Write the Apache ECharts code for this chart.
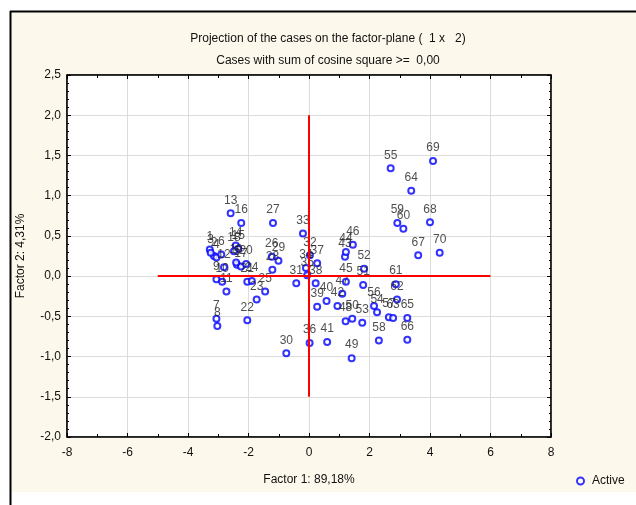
<!DOCTYPE html>
<html>
<head>
<meta charset="utf-8">
<script src="https://cdn.jsdelivr.net/npm/echarts@6/dist/echarts.min.js"></script>
<style>
html,body{margin:0;padding:0;background:#ffffff;}
#chart{width:636px;height:505px;}
</style>
</head>
<body>
<div id="chart"></div>
<script>
// ---- data ----
const caseIds = [1,2,3,4,5,6,7,8,9,10,11,12,13,14,15,16,17,18,19,20,21,22,23,24,25,26,27,28,29,30,31,32,33,34,35,36,37,38,39,40,41,42,43,44,45,46,47,48,49,50,51,52,53,54,55,56,57,58,59,60,61,62,63,64,65,66,67,68,69,70];
const factor1 = [-3.28,-3.14,-3.25,-3.06,-2.38,-2.90,-3.06,-3.03,-3.06,-2.87,-2.73,-2.81,-2.59,-2.42,-2.34,-2.24,-2.25,-2.48,-2.41,-2.08,-2.04,-2.04,-1.73,-1.89,-1.45,-1.23,-1.19,-1.21,-1.01,-0.75,-0.42,0.03,-0.20,-0.10,-0.06,0.02,0.27,0.22,0.27,0.58,0.60,0.94,1.19,1.22,1.22,1.45,1.10,1.21,1.41,1.43,1.79,1.82,1.76,2.25,2.70,2.15,2.64,2.31,2.92,3.12,2.87,2.91,2.78,3.38,3.25,3.25,3.61,4.00,4.10,4.32];
const factor2 = [0.33,0.25,0.29,0.23,0.14,0.27,-0.53,-0.62,-0.04,-0.07,-0.19,0.11,0.78,0.38,0.34,0.66,0.12,0.31,0.17,0.15,-0.07,-0.55,-0.29,-0.06,-0.19,0.24,0.66,0.08,0.19,-0.96,-0.09,0.26,0.53,0.10,0.01,-0.83,0.16,-0.09,-0.38,-0.31,-0.82,-0.37,0.24,0.30,-0.07,0.39,-0.22,-0.56,-1.02,-0.53,-0.11,0.09,-0.58,-0.45,1.34,-0.37,-0.51,-0.80,0.66,0.59,-0.10,-0.29,-0.52,1.06,-0.52,-0.79,0.26,0.67,1.43,0.29];
const xTicks = [-8,-6,-4,-2,0,2,4,6,8];
const yTicks = [-2.0,-1.5,-1.0,-0.5,0.0,0.5,1.0,1.5,2.0,2.5];
const hLine = [[-5,0],[6,0]];
const vLine = [[0,-1.5],[0,2.0]];

const points = caseIds.map((id,i)=>({value:[factor1[i],factor2[i]], name:String(id)}));
const FONT = 'Liberation Sans, Arial, sans-serif';

const chart = echarts.init(document.getElementById('chart'), null, {renderer:'canvas'});
const fmtY = v => v.toFixed(1).replace('.', ',');

chart.setOption({
  animation:false,
  backgroundColor:'#ffffff',
  textStyle:{fontFamily:FONT},
  graphic:[
    {type:'rect', z:-10, shape:{x:11,y:12,width:625,height:480}, style:{fill:'#fdf8ec'}},
    {type:'line', z:-9, shape:{x1:10.5,y1:11,x2:10.5,y2:505}, style:{stroke:'#000',lineWidth:2}},
    {type:'line', z:-9, shape:{x1:10,y1:11.5,x2:636,y2:11.5}, style:{stroke:'#000',lineWidth:2}}
  ],
  title:[
    {text:'Projection of the cases on the factor-plane (  1 x   2)', left:323, top:28, textAlign:'center',
     textStyle:{fontSize:12, fontWeight:'normal', color:'#111', fontFamily:FONT}},
    {text:'Cases with sum of cosine square >=  0,00', left:323, top:50, textAlign:'center',
     textStyle:{fontSize:12, fontWeight:'normal', color:'#111', fontFamily:FONT}}
  ],
  legend:{
    data:['Active'], left:571, top:470, icon:'emptyCircle', itemWidth:7, itemHeight:7, itemGap:6,
    textStyle:{fontSize:12, color:'#111', fontFamily:FONT, padding:[0,0,0,3]}
  },
  grid:{left:67, right:85, top:75, bottom:68, show:true, backgroundColor:'#ffffff', borderColor:'#000', borderWidth:1},
  xAxis:[
    {type:'value', min:xTicks[0], max:xTicks[xTicks.length-1], interval:2,
     name:'Factor 1: 89,18%', nameLocation:'middle', nameGap:37,
     nameTextStyle:{fontSize:12, color:'#111', fontFamily:FONT},
     axisLine:{onZero:false, lineStyle:{color:'#000', width:1.5}},
     axisTick:{inside:true, length:4, lineStyle:{color:'#000'}},
     minorTick:{show:true, splitNumber:2, length:3, lineStyle:{color:'#000'}},
     axisLabel:{fontSize:12, color:'#111', margin:10, fontFamily:FONT},
     splitLine:{show:true, lineStyle:{color:'#dcdcdc', width:1}}},
    {type:'value', position:'top', min:xTicks[0], max:xTicks[xTicks.length-1], interval:2,
     axisLine:{onZero:false, lineStyle:{color:'#000', width:1.5}},
     axisTick:{inside:true, length:4, lineStyle:{color:'#000'}},
     minorTick:{show:true, splitNumber:2, length:3, lineStyle:{color:'#000'}},
     axisLabel:{show:false}, splitLine:{show:false}}
  ],
  yAxis:[
    {type:'value', min:yTicks[0], max:yTicks[yTicks.length-1], interval:0.5,
     name:'Factor 2: 4,31%', nameLocation:'middle', nameGap:40, nameRotate:90,
     nameTextStyle:{fontSize:12, color:'#111', fontFamily:FONT},
     axisLine:{onZero:false, lineStyle:{color:'#000', width:1.5}},
     axisTick:{inside:true, length:4, lineStyle:{color:'#000'}},
     minorTick:{show:true, splitNumber:5, length:2, lineStyle:{color:'#000'}},
     axisLabel:{fontSize:12, color:'#111', margin:6, formatter:fmtY, fontFamily:FONT},
     splitLine:{show:true, lineStyle:{color:'#dcdcdc', width:1}}},
    {type:'value', position:'right', min:yTicks[0], max:yTicks[yTicks.length-1], interval:0.5,
     axisLine:{onZero:false, lineStyle:{color:'#000', width:1.5}},
     axisTick:{inside:true, length:4, lineStyle:{color:'#000'}},
     minorTick:{show:true, splitNumber:5, length:2, lineStyle:{color:'#000'}},
     axisLabel:{show:false}, splitLine:{show:false}}
  ],
  series:[
    {name:'Active', type:'scatter', data:points, symbol:'emptyCircle', symbolSize:6, z:3,
     itemStyle:{color:'#0000ff', borderColor:'#0000ff', borderWidth:1.5},
     label:{show:true, position:'top', distance:3, formatter:p=>p.name, fontSize:12, color:'#222', fontFamily:FONT},
     emphasis:{disabled:true}},
    {name:'h', type:'line', data:hLine, symbol:'none', z:4, silent:true,
     lineStyle:{color:'#ff0000', width:2}},
    {name:'v', type:'line', data:vLine, symbol:'none', z:4, silent:true,
     lineStyle:{color:'#ff0000', width:2}}
  ]
});
</script>
</body>
</html>
